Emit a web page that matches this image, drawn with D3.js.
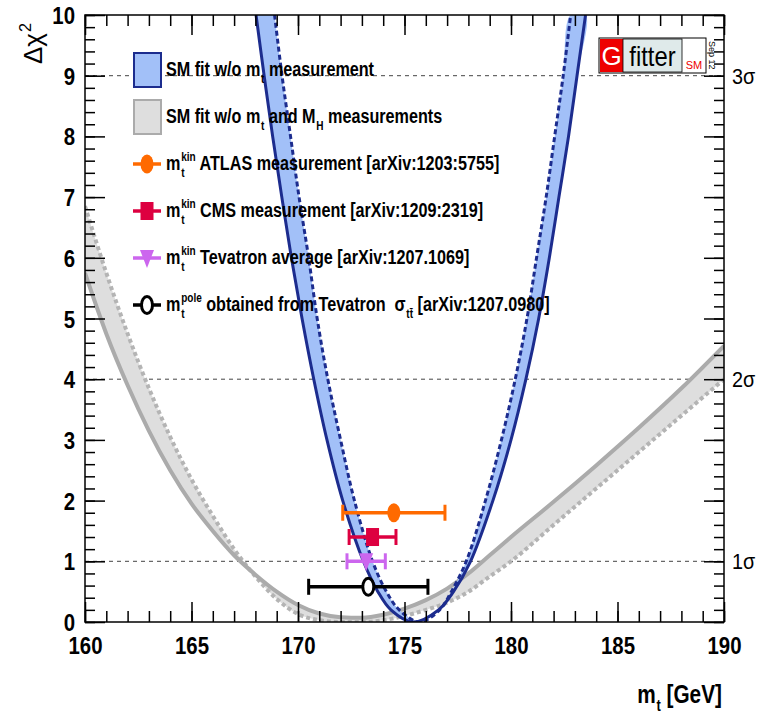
<!DOCTYPE html>
<html>
<head>
<meta charset="utf-8">
<script src="https://cdn.jsdelivr.net/npm/d3@7"></script>
<style>
  body { margin: 0; background: #fff; }
  svg { display: block; }
</style>
</head>
<body>
<script>
// axis ranges
const xDomain = [160, 190];
const yDomain = [0, 10];
const xMajorTicks = [160, 165, 170, 175, 180, 185, 190];
const yMajorTicks = [0, 1, 2, 3, 4, 5, 6, 7, 8, 9, 10];

// sigma reference lines
const sigmaLevels = [1, 4, 9];
const sigmaLabels = ["1σ", "2σ", "3σ"];

// SM fit w/o mt (blue band): mt read at each delta chi2 level, both branches
const blueLevels = [10, 9, 8, 7, 6, 5, 4, 3, 2, 1, 0.5, 0.2, 0];
const blueSolidLeft = [168.03, 168.41, 168.81, 169.24, 169.69, 170.19, 170.74, 171.36, 172.1, 173.07, 173.75, 174.36, 175.4];
const blueSolidRight = [183.5, 183.1, 182.7, 182.25, 181.8, 181.3, 180.7, 180.0, 179.15, 178.1, 177.3, 176.6, 175.4];
const blueDashLeft = [168.9, 169.25, 169.65, 170.05, 170.5, 170.9, 171.4, 172.0, 172.65, 173.5, 174.15, 174.75, 175.7];
const blueDashRight = [182.8, 182.45, 182.05, 181.65, 181.2, 180.75, 180.2, 179.55, 178.8, 177.9, 177.2, 176.65, 175.7];

// SM fit w/o mt and MH (grey band)
const grayMt = [160, 161, 162, 163, 164, 165, 166, 167, 168, 169, 170, 171, 172, 173, 174, 175, 176, 177, 178, 179, 180, 182, 184, 186, 188, 190];
const graySolid = [5.75, 4.75, 3.9, 3.15, 2.5, 1.95, 1.5, 1.1, 0.78, 0.5, 0.28, 0.14, 0.08, 0.07, 0.12, 0.22, 0.36, 0.55, 0.8, 1.1, 1.4, 1.98, 2.58, 3.2, 3.85, 4.55];
const grayDotted = [6.85, 5.75, 4.75, 3.85, 3.05, 2.35, 1.75, 1.2, 0.75, 0.38, 0.13, 0.03, 0, 0, 0.03, 0.1, 0.2, 0.32, 0.5, 0.75, 1.0, 1.6, 2.2, 2.8, 3.4, 4.0];

// direct measurements
const measNames = ["ATLAS", "CMS", "Tevatron", "Pole"];
const measMt = [174.5, 173.5, 173.2, 173.3];
const measErr = [2.4, 1.1, 0.9, 2.8];
const measY = [1.8, 1.4, 1.0, 0.58];

const measColor = d3.scaleOrdinal()
    .domain(measNames)
    .range(["#ff6a00", "#dd0040", "#cc66ee", "#000000"]);

const FONT = "'Liberation Sans', Arial, Helvetica, sans-serif";

const width = 758, height = 717;
const frame = { left: 85, right: 724, top: 15, bottom: 622 };

const x = d3.scaleLinear().domain(xDomain).range([frame.left, frame.right]);
const y = d3.scaleLinear().domain(yDomain).range([frame.bottom, frame.top]);

const svg = d3.select("body").append("svg")
    .attr("xmlns", "http://www.w3.org/2000/svg")
    .attr("width", width)
    .attr("height", height);

svg.append("rect").attr("width", width).attr("height", height).attr("fill", "#fff");

svg.append("defs").append("clipPath").attr("id", "plotclip")
    .append("rect")
    .attr("x", frame.left).attr("y", frame.top)
    .attr("width", frame.right - frame.left)
    .attr("height", frame.bottom - frame.top);

const plot = svg.append("g").attr("clip-path", "url(#plotclip)");

// dashed sigma lines
plot.append("g").selectAll("line")
    .data(sigmaLevels)
    .join("line")
    .attr("x1", frame.left).attr("x2", frame.right)
    .attr("y1", d => y(d)).attr("y2", d => y(d))
    .attr("stroke", "#444")
    .attr("stroke-width", 1)
    .attr("stroke-dasharray", "4,4");

// grey band
const grayIdx = d3.range(grayMt.length);
plot.append("path")
    .attr("d", d3.area()
        .x(i => x(grayMt[i]))
        .y0(i => y(grayDotted[i]))
        .y1(i => y(graySolid[i]))
        .curve(d3.curveMonotoneX)(grayIdx))
    .attr("fill", "#dedede");

const grayLine = vals => d3.line()
    .x(i => x(grayMt[i]))
    .y(i => y(vals[i]))
    .curve(d3.curveMonotoneX)(grayIdx);

plot.append("path")
    .attr("d", grayLine(grayDotted))
    .attr("fill", "none")
    .attr("stroke", "#b4b4b4")
    .attr("stroke-width", 4)
    .attr("stroke-dasharray", "4,3");
plot.append("path")
    .attr("d", grayLine(graySolid))
    .attr("fill", "none")
    .attr("stroke", "#ababab")
    .attr("stroke-width", 4);

// blue band
function uCurve(left, right) {
    let pts = left.map((m, i) => [m, blueLevels[i]]);
    let r = right.map((m, i) => [m, blueLevels[i]]).reverse().slice(1);
    return pts.concat(r);
}
const blueSolid = uCurve(blueSolidLeft, blueSolidRight);
const blueDash = uCurve(blueDashLeft, blueDashRight);

const uLine = d3.line().x(d => x(d[0])).y(d => y(d[1])).curve(d3.curveCatmullRom);

plot.append("path")
    .attr("d", uLine(blueSolid.concat(blueDash.slice().reverse())) + "Z")
    .attr("fill", "#a2c0f8");
plot.append("path")
    .attr("d", uLine(blueDash))
    .attr("fill", "none")
    .attr("stroke", "#1c2c8e")
    .attr("stroke-width", 3)
    .attr("stroke-dasharray", "5,3");
plot.append("path")
    .attr("d", uLine(blueSolid))
    .attr("fill", "none")
    .attr("stroke", "#1c2c8e")
    .attr("stroke-width", 3);

// marker shapes
function drawMarker(g, name, cx, cy) {
    let c = measColor(name);
    if (name === "ATLAS") {
        g.append("ellipse").attr("cx", cx).attr("cy", cy).attr("rx", 6.5).attr("ry", 9.5).attr("fill", c);
    } else if (name === "CMS") {
        g.append("rect").attr("x", cx - 6.5).attr("y", cy - 9).attr("width", 13).attr("height", 18).attr("fill", c);
    } else if (name === "Tevatron") {
        g.append("path")
            .attr("d", `M${cx - 7},${cy - 8} L${cx + 7},${cy - 8} L${cx},${cy + 10} Z`)
            .attr("fill", c);
    } else {
        g.append("ellipse").attr("cx", cx).attr("cy", cy).attr("rx", 5.5).attr("ry", 8.5)
            .attr("fill", "#fff").attr("stroke", c).attr("stroke-width", 3);
    }
}

// measurements with error bars
const meas = svg.append("g");
measNames.forEach((name, i) => {
    let c = measColor(name);
    let x1 = x(measMt[i] - measErr[i]), x2 = x(measMt[i] + measErr[i]), yy = y(measY[i]);
    meas.append("line").attr("x1", x1).attr("x2", x2).attr("y1", yy).attr("y2", yy)
        .attr("stroke", c).attr("stroke-width", 3.5);
    [x1, x2].forEach(xx => {
        meas.append("line").attr("x1", xx).attr("x2", xx).attr("y1", yy - 8).attr("y2", yy + 8)
            .attr("stroke", c).attr("stroke-width", 3);
    });
    drawMarker(meas, name, x(measMt[i]), yy);
});

// text with sub/superscripts, drawn piece by piece
function richText(g, parts, size, weight, fill) {
    let cursor = 0;
    parts.forEach(p => {
        if (p.t !== undefined) {
            let t = g.append("text").attr("x", cursor).attr("y", 0)
                .attr("font-family", FONT).attr("font-size", size)
                .attr("font-weight", weight).attr("fill", fill)
                .style("white-space", "pre").text(p.t);
            cursor += t.node().getComputedTextLength();
        } else {
            let w = 0;
            if (p.sub) {
                let t = g.append("text").attr("x", cursor + 1).attr("y", size * 0.32)
                    .attr("font-family", FONT).attr("font-size", size * 0.62)
                    .attr("font-weight", weight).attr("fill", fill).text(p.sub);
                w = Math.max(w, t.node().getComputedTextLength() + 1);
            }
            if (p.sup) {
                let t = g.append("text").attr("x", cursor + 1).attr("y", -size * 0.42)
                    .attr("font-family", FONT).attr("font-size", size * 0.62)
                    .attr("font-weight", weight).attr("fill", fill).text(p.sup);
                w = Math.max(w, t.node().getComputedTextLength() + 1);
            }
            cursor += w;
        }
    });
    return cursor;
}

// legend
const legendEntries = [
    { kind: "blue", parts: [{ t: "SM fit w/o m" }, { sub: "t" }, { t: " measurement" }] },
    { kind: "gray", parts: [{ t: "SM fit w/o m" }, { sub: "t" }, { t: " and M" }, { sub: "H" }, { t: " measurements" }] },
    { kind: "ATLAS", parts: [{ t: "m" }, { sub: "t", sup: "kin" }, { t: " ATLAS measurement [arXiv:1203:5755]" }] },
    { kind: "CMS", parts: [{ t: "m" }, { sub: "t", sup: "kin" }, { t: " CMS measurement [arXiv:1209:2319]" }] },
    { kind: "Tevatron", parts: [{ t: "m" }, { sub: "t", sup: "kin" }, { t: " Tevatron average [arXiv:1207.1069]" }] },
    { kind: "Pole", parts: [{ t: "m" }, { sub: "t", sup: "pole" }, { t: " obtained from Tevatron  σ" }, { sub: "tt\u0304" }, { t: " [arXiv:1207.0980]" }] }
];

const legend = svg.append("g");
legendEntries.forEach((e, i) => {
    let cy = 70 + i * 47;
    if (e.kind === "blue") {
        legend.append("rect").attr("x", 134).attr("y", cy - 17).attr("width", 27).attr("height", 34)
            .attr("fill", "#a2c0f8").attr("stroke", "#1c2c8e").attr("stroke-width", 2);
    } else if (e.kind === "gray") {
        legend.append("rect").attr("x", 134).attr("y", cy - 17).attr("width", 27).attr("height", 34)
            .attr("fill", "#dedede").attr("stroke", "#ababab").attr("stroke-width", 2);
    } else {
        legend.append("line").attr("x1", 133).attr("x2", 161).attr("y1", cy).attr("y2", cy)
            .attr("stroke", measColor(e.kind)).attr("stroke-width", 3.5);
        drawMarker(legend, e.kind, 147, cy);
    }
    let g = legend.append("g").attr("transform", `translate(166,${cy + 6}) scale(0.77,1)`);
    richText(g, e.parts, 21, "bold", "#000");
});

// axes: major and minor ticks on all four sides, pointing inward
function tickAxis(axis, scale, values, size, pos, labels) {
    let a = axis(scale).tickValues(values).tickSize(-size);
    if (!labels) a.tickFormat("");
    let g = svg.append("g").attr("transform", pos).call(a);
    g.select(".domain").remove();
    g.selectAll(".tick line").attr("stroke", "#000").attr("stroke-width", 1.5);
    return g;
}
const xMinor = d3.range(160, 190.5, 1);
const yMinor = d3.range(0, 50.5, 1).map(d => d / 5);

tickAxis(d3.axisBottom, x, xMinor, 11, `translate(0,${frame.bottom})`, false);
tickAxis(d3.axisTop, x, xMinor, 11, `translate(0,${frame.top})`, false);
tickAxis(d3.axisTop, x, xMajorTicks, 20, `translate(0,${frame.top})`, false);
tickAxis(d3.axisLeft, y, yMinor, 10, `translate(${frame.left},0)`, false);
tickAxis(d3.axisRight, y, yMinor, 10, `translate(${frame.right},0)`, false);
tickAxis(d3.axisRight, y, yMajorTicks, 20, `translate(${frame.right},0)`, false);

const xAx = tickAxis(d3.axisBottom, x, xMajorTicks, 20, `translate(0,${frame.bottom})`, true);
xAx.selectAll(".tick text")
    .attr("y", 0).attr("dy", null)
    .attr("transform", "translate(0,32) scale(0.85,1)")
    .attr("font-family", FONT).attr("font-size", 24).attr("font-weight", "bold").attr("fill", "#000");

const yAx = tickAxis(d3.axisLeft, y, yMajorTicks, 20, `translate(${frame.left},0)`, true);
yAx.selectAll(".tick text")
    .attr("x", 0).attr("dy", null).attr("y", 0)
    .attr("transform", "translate(-10,8.5) scale(0.85,1)")
    .attr("font-family", FONT).attr("font-size", 24).attr("font-weight", "bold").attr("fill", "#000");

// frame
svg.append("rect")
    .attr("x", frame.left).attr("y", frame.top)
    .attr("width", frame.right - frame.left).attr("height", frame.bottom - frame.top)
    .attr("fill", "none").attr("stroke", "#000").attr("stroke-width", 1.5);

// sigma labels on right
svg.append("g").selectAll("text")
    .data(sigmaLevels)
    .join("text")
    .attr("transform", d => `translate(732,${y(d) + 8}) scale(0.9,1)`)
    .attr("font-family", FONT).attr("font-size", 22).attr("fill", "#000")
    .text((d, i) => sigmaLabels[i]);

// axis titles
const xt = svg.append("g");
let xtw = richText(xt.append("g"), [{ t: "m" }, { sub: "t" }, { t: " [GeV]" }], 26, "bold", "#000");
xt.attr("transform", `translate(${frame.right - 2 - xtw * 0.8},703) scale(0.8,1)`);

const yt = svg.append("g").attr("transform", "translate(42,64) rotate(-90)");
richText(yt, [{ t: "Δχ" }, { sup: "2" }], 26, "normal", "#000");

// Gfitter logo
const logo = svg.append("g");
logo.append("rect").attr("x", 599).attr("y", 38).attr("width", 107).attr("height", 35)
    .attr("fill", "#fff").attr("stroke", "#000").attr("stroke-width", 1);
logo.append("rect").attr("x", 600).attr("y", 39).attr("width", 23).attr("height", 33).attr("fill", "#ee0000");
logo.append("rect").attr("x", 623).attr("y", 39).attr("width", 59).attr("height", 33)
    .attr("fill", "#dfeaea").attr("stroke", "#000").attr("stroke-width", 0.8);
logo.append("text").attr("x", 611.5).attr("y", 65).attr("text-anchor", "middle")
    .attr("font-family", FONT).attr("font-size", 26).attr("fill", "#fff").text("G");
logo.append("text").attr("x", 652.5).attr("y", 66).attr("text-anchor", "middle")
    .attr("font-family", FONT).attr("font-size", 28).attr("fill", "#000")
    .attr("transform", "translate(652.5,0) scale(0.85,1) translate(-652.5,0)")
    .text("fitter");
logo.append("text").attr("x", 694).attr("y", 69).attr("text-anchor", "middle")
    .attr("font-family", FONT).attr("font-size", 11).attr("fill", "#ee0000").text("SM");
logo.append("text").attr("transform", "translate(709,41) rotate(90)")
    .attr("font-family", FONT).attr("font-size", 9).attr("fill", "#000").text("Sep 12");
</script>
</body>
</html>
